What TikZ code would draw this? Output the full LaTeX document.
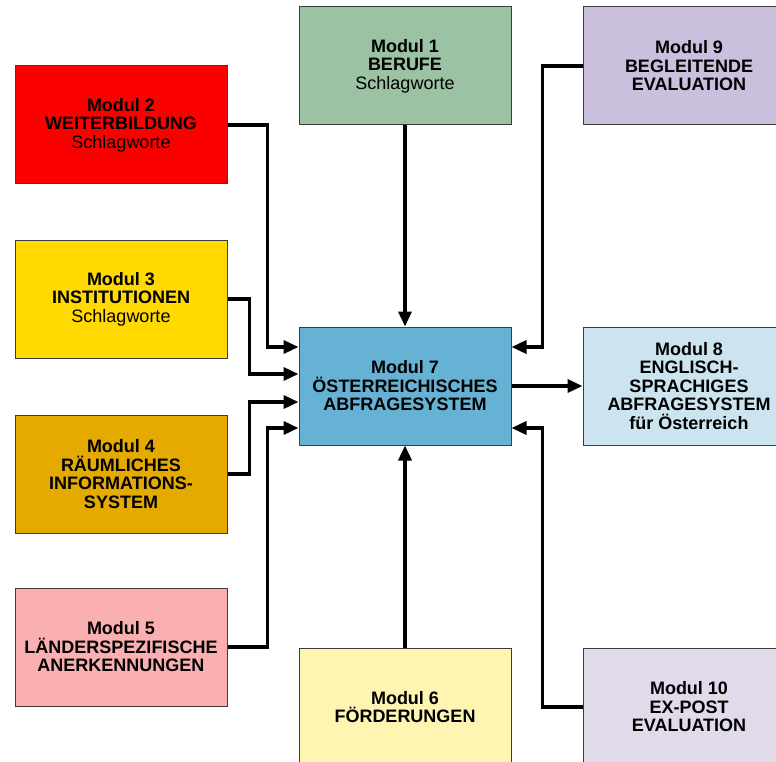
\documentclass[tikz,border=0pt]{standalone}
\usepackage{fontspec}
\setmainfont{Liberation Sans}
\usetikzlibrary{positioning,calc,arrows.meta}
\definecolor{boxgray}{RGB}{60,60,60}
\definecolor{modgreen}{RGB}{155,194,163}
\definecolor{modred}{RGB}{250,0,0}
\definecolor{modyellow}{RGB}{255,217,0}
\definecolor{modgold}{RGB}{229,170,0}
\definecolor{modpink}{RGB}{250,176,176}
\definecolor{modcream}{RGB}{255,245,178}
\definecolor{modblue}{RGB}{102,178,212}
\definecolor{modlightblue}{RGB}{204,228,240}
\definecolor{modlilac}{RGB}{202,191,221}
\definecolor{modpalelilac}{RGB}{224,218,234}
\tikzset{block/.style={draw=boxgray,line width=1pt,minimum width=212pt,minimum height=118pt,align=center,inner sep=2pt,font=\fontsize{18}{18.5}\selectfont\bfseries},
         line/.style={-{Triangle[length=15pt,width=13pt]},line width=3.5pt}
     }

\begin{document}
\begin{tikzpicture}[x=1pt,y=1pt]
\useasboundingbox (0,0) rectangle (776,-762);
\clip (0,0) rectangle (776,-762);
\node[block,fill=modblue] (m7) at (405,-386) {Modul 7\\ÖSTERREICHISCHES\\ABFRAGESYSTEM};
\node[block,fill=modgreen,above=201pt of m7] (m1) {Modul 1\\BERUFE\\{\mdseries Schlagworte}};
\node[block,fill=modcream,below=202pt of m7] (m6) {Modul 6\\FÖRDERUNGEN};
\node[block,fill=modlightblue,right=71pt of m7] (m8) {Modul 8\\ENGLISCH-\\SPRACHIGES\\ABFRAGESYSTEM\\für Österreich};
\node[block,fill=modlilac,right=71pt of m1] (m9) {Modul 9\\BEGLEITENDE\\EVALUATION};
\node[block,fill=modpalelilac,right=71pt of m6] (m10) {Modul 10\\EX-POST\\EVALUATION};
\node[block,fill=modred,left=71pt of m7,yshift=261pt] (m2) {Modul 2\\WEITERBILDUNG\\{\mdseries Schlagworte}};
\node[block,fill=modyellow,left=71pt of m7,yshift=87pt] (m3) {Modul 3\\INSTITUTIONEN\\{\mdseries Schlagworte}};
\node[block,fill=modgold,left=71pt of m7,yshift=-88pt] (m4) {Modul 4\\RÄUMLICHES\\INFORMATIONS-\\SYSTEM};
\node[block,fill=modpink,left=71pt of m7,yshift=-261pt] (m5) {Modul 5\\LÄNDERSPEZIFISCHE\\ANERKENNUNGEN};
\draw[line] (m1) -- (m7);
\draw[line] (m6) -- (m7);
\draw[line] (m7) -- (m8);
\draw[line] (m2.east) -| ($(m7.west)+(-31,39)$) -- ([yshift=39pt]m7.west);
\draw[line] (m3.east) -| ($(m7.west)+(-49,12)$) -- ([yshift=12pt]m7.west);
\draw[line] (m4.east) -| ($(m7.west)+(-49,-16)$) -- ([yshift=-16pt]m7.west);
\draw[line] (m5.east) -| ($(m7.west)+(-31,-42)$) -- ([yshift=-42pt]m7.west);
\draw[line] (m9.west) -| ($(m7.east)+(31,39)$) -- ([yshift=39pt]m7.east);
\draw[line] (m10.west) -| ($(m7.east)+(31,-42)$) -- ([yshift=-42pt]m7.east);
\end{tikzpicture}
\end{document}
